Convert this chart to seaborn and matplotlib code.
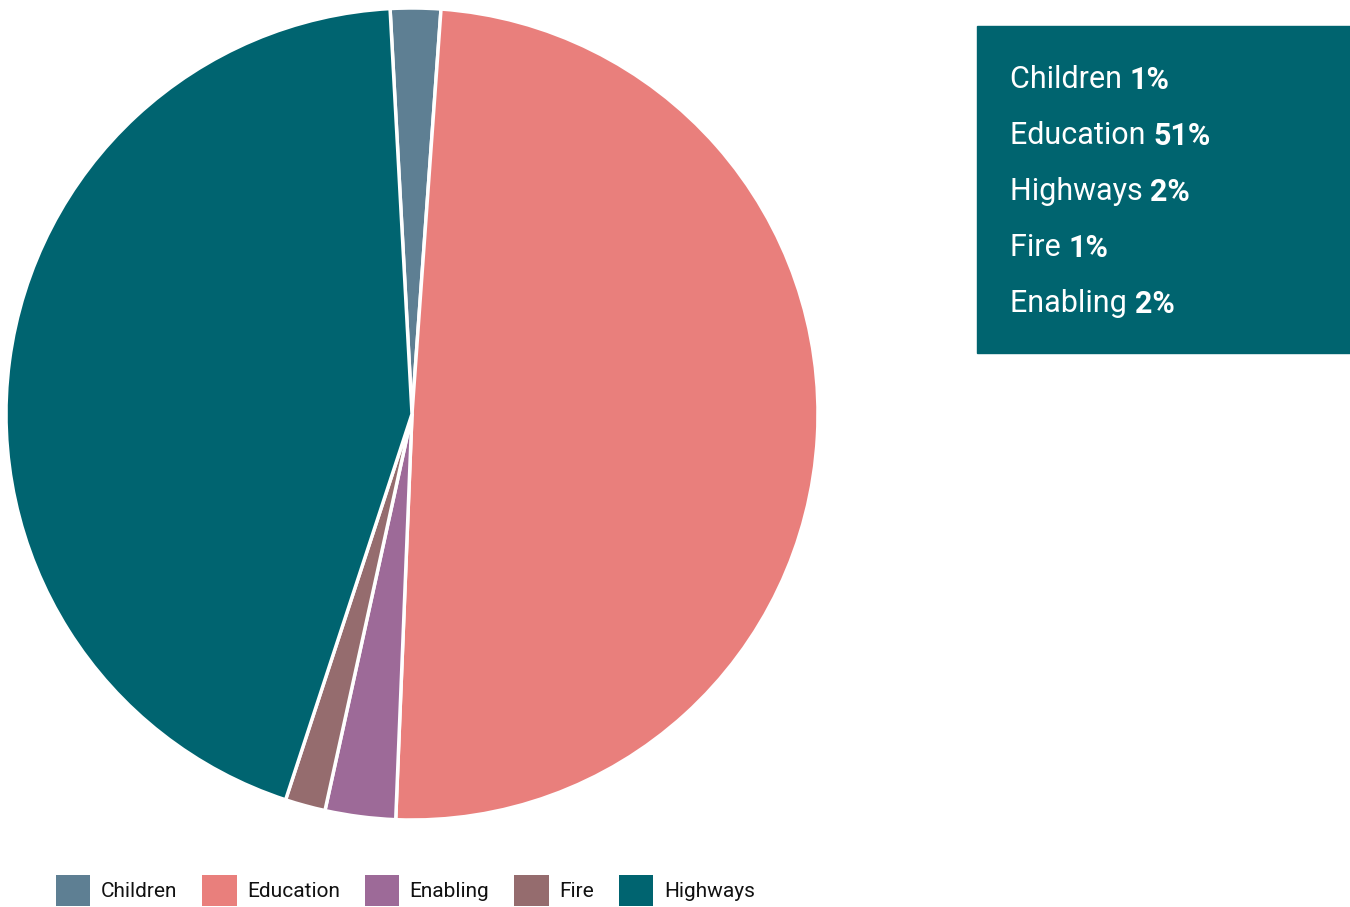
import matplotlib
matplotlib.use("Agg")
import matplotlib.pyplot as plt
from matplotlib.patches import Patch, Rectangle
import seaborn as sns

# -----------------------------
# DATA
# -----------------------------
categories = ["Children", "Education", "Enabling", "Fire", "Highways"]
shares = [2.0, 49.5, 2.8, 1.6, 44.1]
colors = ["#5e7f93", "#e97f7c", "#9d6a98", "#956c6e", "#006470"]

box_labels = ["Children", "Education", "Highways", "Fire", "Enabling"]
box_values = ["1%", "51%", "2%", "1%", "2%"]

sns.set_style("white")
plt.rcParams["font.family"] = ["Roboto", "DejaVu Sans"]

W, H = 1350, 907
fig = plt.figure(figsize=(W / 100, H / 100), dpi=100)

# pie axis placed in pixels
cx, cy, r = 412, 414, 406
ax = fig.add_axes([(cx - r) / W, (H - cy - r) / H, 2 * r / W, 2 * r / H])
ax.pie(shares, colors=sns.color_palette(colors), startangle=93.1, counterclock=False,
       wedgeprops=dict(edgecolor="white", linewidth=2.5))
ax.set_xlim(-1, 1)
ax.set_ylim(-1, 1)
ax.set_aspect("equal")
ax.axis("off")

# info box top right
fig.patches.append(Rectangle((977 / W, (H - 353) / H), (W - 977) / W, 327 / H,
                             transform=fig.transFigure, color="#00646f", zorder=0))
for i, (lab, val) in enumerate(zip(box_labels, box_values)):
    y = (H - 80 - 56 * i) / H
    t = fig.text(1010 / W, y, lab + " ", color="white", fontsize=22, va="center")
    fig.canvas.draw()
    bb = t.get_window_extent()
    fig.text(bb.x1 / W, y, val, color="white", fontsize=22, fontweight="bold", va="center")

# legend at bottom
handles = [Patch(facecolor=c, edgecolor="none") for c in colors]
fig.legend(handles, categories, loc="lower left", bbox_to_anchor=(55 / W, 0.0),
           borderaxespad=0, borderpad=0.05,
           ncol=5, frameon=False, fontsize=15, handlelength=1.65, handleheight=1.9,
           handletextpad=0.5, columnspacing=1.2, labelcolor="#111111")

fig.savefig("out.png", dpi=100)
